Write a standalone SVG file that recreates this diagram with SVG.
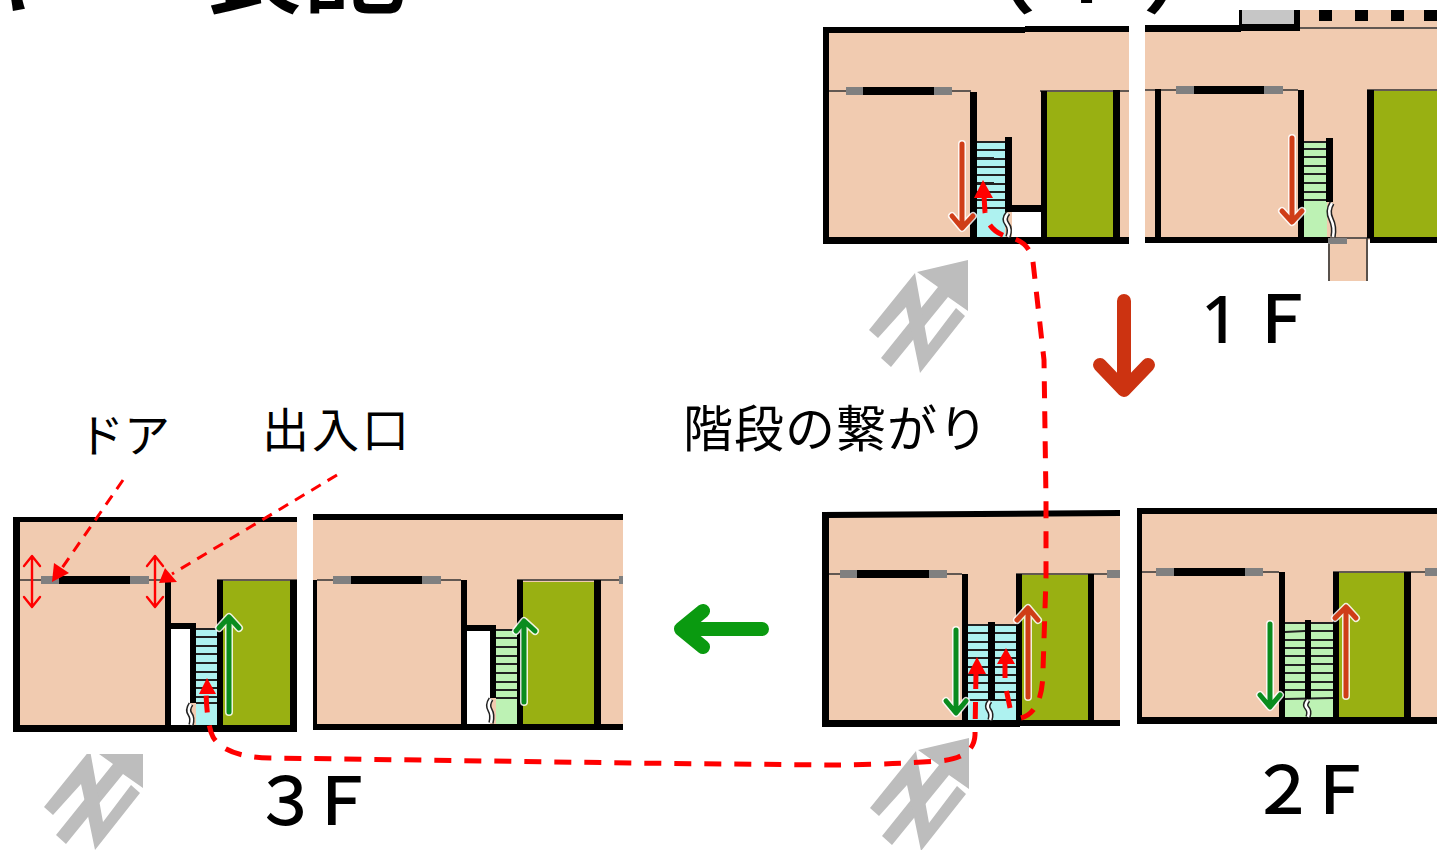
<svg xmlns="http://www.w3.org/2000/svg" width="1437" height="850" viewBox="0 0 1437 850">
<style>
.room{fill:#f1cbb0}.green{fill:#99b012}.cy{fill:#aef2f0}.lg{fill:#bdf2b4}.white{fill:#fff}.gray{fill:#808080}.k{fill:#000}
.thin{stroke:#333;stroke-width:1.6;fill:none}
.step{stroke:#222;stroke-width:2.2;fill:none}
.zk{stroke:#222;stroke-width:5.5;fill:none}.zw{stroke:#fff;stroke-width:2.5;fill:none}
.halo{fill:none;stroke:#fff;stroke-width:8;stroke-linecap:round;stroke-linejoin:round;stroke-opacity:.85}
.brown{fill:none;stroke:#cf3d17;stroke-width:5;stroke-linecap:round;stroke-linejoin:round}
.grn{fill:none;stroke:#0a8c1e;stroke-width:5;stroke-linecap:round;stroke-linejoin:round}
.dash{fill:none;stroke:#f00;stroke-width:5;stroke-dasharray:17 13}
.solid{fill:none;stroke:#f00;stroke-width:5}
.lead{fill:none;stroke:#f00;stroke-width:3;stroke-dasharray:11 8}
.dbl{fill:none;stroke:#f00;stroke-width:2.4;stroke-linecap:round;stroke-linejoin:round}
.rh{fill:#f00}
.t{font-family:"Noto Sans CJK JP","Noto Sans",sans-serif;fill:#000}
.fl{font-weight:500;font-size:66px}
</style>
<defs>
<g id="compass" fill="#bdbdbd">
<polygon points="0,0 -51,12 -30,27 -87,98 -77,107 -20,37 0,51"/>
<polygon points="-99,70 -53,13 -40,85 -12,48 -3,56 -48,113 -55,79 -62,47 -90,78"/>
</g>
<clipPath id="c3"><rect x="0" y="754" width="300" height="96"/></clipPath>
</defs>

<g id="title" class="t" font-size="105" font-weight="500">
<text x="-42" y="5">キ</text>
<text x="197" y="5">表記</text>
<text x="932" y="4">（</text>
<text x="1053" y="3" style="font-family:'Noto Sans',sans-serif">1</text>
<text x="1142" y="4">）</text>
</g>

<g id="floor-1f-left">
<rect class="room" x="826" y="30" width="303" height="210"/>
<rect class="green" x="1047" y="92" width="66" height="146"/>
<rect class="cy" x="977" y="141" width="28" height="97"/>
<rect class="white" x="1012" y="212" width="29" height="26"/>
<path class="step" d="M977 142H1005M977 150H1005M977 158H994M977 159H1005M977 167H1005M977 175H1005M977 183H994M977 184H1005M977 192H1005M977 200H1005M977 208H1005"/>
<path class="k" d="M823 27H1025V26H1129V32H1025V33H829V237H1129V244H823Z"/>
<path class="thin" d="M829 91H971M1040 91H1129"/>
<rect class="k" x="863" y="87" width="71" height="8"/>
<rect class="gray" x="846" y="87" width="17" height="8"/><rect class="gray" x="934" y="87" width="18" height="8"/>
<rect class="k" x="970" y="92" width="7" height="146"/>
<rect class="k" x="1005" y="137" width="7" height="70"/>
<rect class="k" x="1005" y="205" width="42" height="7"/>
<rect class="k" x="1041" y="91" width="6" height="147"/>
<rect class="k" x="1113" y="90" width="7" height="148"/>
<path class="zk" d="M1008 213q-5 6-1 11t1 13"/><path class="zw" d="M1008 213q-5 6-1 11t1 13"/>
</g>

<g id="floor-1f-right">
<rect class="room" x="1145" y="30" width="292" height="210"/>
<rect class="room" x="1300" y="10" width="137" height="20"/>
<rect x="1241" y="10" width="54" height="15" fill="#c6c6c6"/>
<rect class="green" x="1374" y="91" width="63" height="146"/>
<rect class="lg" x="1304" y="141" width="23" height="96"/>
<rect class="room" x="1328" y="240" width="40" height="41"/>
<path class="step" d="M1304 142H1326M1304 149H1326M1304 157H1326M1304 166H1326M1304 174H1326M1304 183H1326M1304 192H1326M1304 200H1326"/>
<path class="k" d="M1145 25H1241V32H1145Z"/>
<path class="k" d="M1239 10H1242V24H1294V10H1300V31H1239Z"/>
<path class="k" d="M1319 10h13v11h-13zM1355 10h13v11h-13zM1391 10h13v11h-13zM1424 10h13v11h-13z"/>
<path class="thin" d="M1300 28H1437M1145 90H1298M1367 90H1437M1329 240V281M1367 238V281M1329 238H1370"/>
<rect class="k" x="1155" y="89" width="6" height="149"/>
<rect class="k" x="1194" y="86" width="70" height="8"/>
<rect class="gray" x="1176" y="86" width="18" height="8"/><rect class="gray" x="1264" y="86" width="19" height="8"/>
<rect class="k" x="1298" y="90" width="6" height="148"/>
<rect class="k" x="1326" y="138" width="7" height="64"/>
<rect class="k" x="1367" y="90" width="7" height="148"/>
<path class="k" d="M1145 237H1330V243H1145ZM1370 237H1437V243H1370Z"/>
<path class="zk" d="M1332 203q-5 8-1 16t2 18"/><path class="zw" d="M1332 203q-5 8-1 16t2 18"/>
<rect class="gray" x="1328" y="238" width="19" height="6"/>
</g>

<g id="floor-2f-left">
<rect class="room" x="826" y="515" width="294" height="207"/>
<rect class="green" x="1022" y="575" width="66" height="145"/>
<rect class="cy" x="968" y="624" width="48" height="96"/>
<path class="step" d="M968 625H1016M968 633H1016M968 642H1016M968 650H1016M968 658H1016M968 667H1016M968 675H1016M968 683H1016M968 692H1016M968 700H1016"/>
<path class="k" d="M822 512L1120 510V516L829 518V720H1120V726H1020V727H822Z"/>
<path class="thin" d="M829 574H962M1016 574H1120"/>
<rect class="k" x="857" y="570" width="72" height="8"/>
<rect class="gray" x="840" y="570" width="17" height="8"/><rect class="gray" x="929" y="570" width="18" height="8"/><rect class="gray" x="1107" y="570" width="13" height="8"/>
<rect class="k" x="962" y="574" width="6" height="147"/>
<rect class="k" x="988" y="622" width="7" height="78"/>
<rect class="k" x="1016" y="574" width="6" height="147"/>
<rect class="k" x="1088" y="574" width="6" height="147"/>
<path class="zk" d="M990 701q-4 5-1 9t1 10"/><path class="zw" d="M990 701q-4 5-1 9t1 10"/>
</g>

<g id="floor-2f-right">
<rect class="room" x="1140" y="512" width="297" height="207"/>
<rect class="green" x="1339" y="573" width="65" height="145"/>
<rect class="lg" x="1285" y="622" width="48" height="96"/>
<path class="step" d="M1285 623H1333M1285 632L1305 631M1311 631H1333M1285 640H1333M1285 648H1333M1285 656H1333M1285 665H1305M1311 664H1333M1285 673H1333M1285 682H1333M1285 690H1333M1285 699L1333 698"/>
<path class="k" d="M1137 508H1437V514H1142V717H1437V724H1137Z"/>
<path class="thin" d="M1142 572H1279M1333 572H1437"/>
<rect class="k" x="1174" y="568" width="71" height="8"/>
<rect class="gray" x="1156" y="568" width="18" height="8"/><rect class="gray" x="1245" y="568" width="18" height="8"/><rect class="gray" x="1425" y="568" width="12" height="8"/>
<rect class="k" x="1279" y="572" width="6" height="146"/>
<rect class="k" x="1305" y="620" width="6" height="79"/>
<rect class="k" x="1333" y="572" width="6" height="146"/>
<rect class="k" x="1404" y="572" width="7" height="146"/>
<path class="zk" d="M1308 700q-4 5-1 8t1 9"/><path class="zw" d="M1308 700q-4 5-1 8t1 9"/>
</g>

<g id="floor-3f-left">
<rect class="room" x="16" y="520" width="281" height="208"/>
<rect class="green" x="223" y="581" width="67" height="145"/>
<rect class="white" x="171" y="629" width="19" height="97"/>
<rect class="cy" x="196" y="628" width="21" height="98"/>
<path class="step" d="M196 629H217M196 637H217M196 646H217M196 654H217M196 663H217M196 672H217M196 680H217M196 688H217M196 697H217M196 703H217"/>
<path class="k" d="M13 517H297V522H20V725H297V732H13Z"/>
<path class="thin" d="M20 580H165M217 580H297"/>
<rect class="k" x="59" y="576" width="71" height="8"/>
<rect class="gray" x="41" y="576" width="18" height="8"/><rect class="gray" x="130" y="576" width="19" height="8"/>
<rect class="k" x="165" y="580" width="6" height="146"/>
<rect class="k" x="165" y="623" width="31" height="6"/>
<rect class="k" x="190" y="623" width="6" height="80"/>
<rect class="k" x="217" y="580" width="6" height="146"/>
<rect class="k" x="290" y="580" width="7" height="146"/>
<path class="zk" d="M191 704q-4 6-1 10t1 11"/><path class="zw" d="M191 704q-4 6-1 10t1 11"/>
</g>

<g id="floor-3f-right">
<rect class="room" x="313" y="517" width="310" height="208"/>
<rect class="green" x="523" y="582" width="71" height="142"/>
<rect class="white" x="467" y="631" width="23" height="93"/>
<rect class="lg" x="496" y="629" width="21" height="95"/>
<path class="step" d="M496 630H517M496 638H517M496 647H517M496 656H517M496 664H517M496 673H517M496 682H517M496 690H517M496 698H517"/>
<path class="k" d="M313 514H623V520H313ZM313 724H623V730H313Z"/>
<rect class="k" x="313" y="580" width="4" height="144"/>
<path class="thin" d="M317 580H461M517 580H623"/>
<rect class="k" x="351" y="576" width="71" height="8"/>
<rect class="gray" x="333" y="576" width="18" height="8"/><rect class="gray" x="422" y="576" width="19" height="8"/><rect class="gray" x="619" y="576" width="4" height="8"/>
<rect class="k" x="461" y="580" width="6" height="145"/>
<rect class="k" x="461" y="625" width="35" height="6"/>
<rect class="k" x="490" y="625" width="6" height="73"/>
<rect class="k" x="517" y="580" width="6" height="145"/>
<rect class="k" x="594" y="580" width="7" height="145"/>
<path class="zk" d="M491 699q-4 6-1 11t1 13"/><path class="zw" d="M491 699q-4 6-1 11t1 13"/>
</g>

<g id="compass-1f"><use href="#compass" x="968" y="260"/></g>
<g id="compass-2f"><use href="#compass" x="969" y="738"/></g>
<g id="compass-3f" clip-path="url(#c3)"><use href="#compass" x="143" y="737"/></g>

<g id="connectors">
<g id="flow-brown">
<path class="halo" d="M962 144V227M952 216L962 228L973 216"/><path class="brown" d="M962 144V227M952 216L962 228L973 216"/>
<path class="halo" d="M1292 138V221M1282 211L1292 222L1302 211"/><path class="brown" d="M1292 138V221M1282 211L1292 222L1302 211"/>
<path class="halo" d="M1028 697V609M1017 620L1028 608L1038 620"/><path class="brown" d="M1028 697V609M1017 620L1028 608L1038 620"/>
<path class="halo" d="M1346 696V608M1335 618L1346 607L1356 618"/><path class="brown" d="M1346 696V608M1335 618L1346 607L1356 618"/>
</g>
<g id="flow-green">
<path class="halo" d="M956 630V712M946 701L956 713L966 701"/><path class="grn" d="M956 630V712M946 701L956 713L966 701"/>
<path class="halo" d="M1270 624V706M1260 695L1270 707L1280 695"/><path class="grn" d="M1270 624V706M1260 695L1270 707L1280 695"/>
<path class="halo" d="M229 712V618M219 628L229 617L239 628"/><path class="grn" d="M229 712V618M219 628L229 617L239 628"/>
<path class="halo" d="M524 702V622M516 631L524 621L535 631"/><path class="grn" d="M524 702V622M516 631L524 621L535 631"/>
</g>
<path id="big-down" d="M1124 301V388M1100 365L1124 390L1148 365" fill="none" stroke="#cc3311" stroke-width="14" stroke-linecap="round" stroke-linejoin="round"/>
<path id="big-left" d="M762 629H685M703 611L681 629L703 647" fill="none" stroke="#0a9a10" stroke-width="14" stroke-linecap="round" stroke-linejoin="round"/>
<g id="route">
<path class="dash" d="M984 196L985 212Q988 233 1012 238Q1030 243 1033 262L1044 360L1046 500V578L1043 670Q1043 712 1021 718"/>
<path class="solid" d="M1005 662V678M1006.500 691L1010 708"/>
<path class="dash" d="M976 672L975 735Q974 758 940 761Q880 765 826 765L630 763L270 758Q225 757 213 737Q207 725 206 692"/>
<polygon class="rh" points="983,180 974,198 993,198"/>
<polygon class="rh" points="977,657 968,674 986,674"/>
<polygon class="rh" points="1006,648 997,664 1015,664"/>
<polygon class="rh" points="207,678 199,694 216,694"/>
</g>
<g id="leaders">
<path class="lead" d="M123 480L62 568"/>
<polygon class="rh" points="52,582 54,563 69,573"/>
<path class="lead" d="M337 475L172 574"/>
<polygon class="rh" points="159,583 165,568 177,582"/>
<path class="dbl" d="M32 557V606M24 566L32 556L40 566M24 597L32 607L40 597"/>
<path class="dbl" d="M155 557V606M147 566L155 556L163 566M147 597L155 607L163 597"/>
</g>
</g>

<g id="labels" class="t">
<text x="78" y="452" font-size="46">ドア</text>
<text x="262" y="447" font-size="47" letter-spacing="3">出入口</text>
<text x="683" y="447" font-size="50" letter-spacing="1">階段の繋がり</text>
<text class="fl" y="343"><tspan x="1201" style="font-family:'Noto Sans',sans-serif">1</tspan><tspan x="1249">Ｆ</tspan></text>
<text class="fl" x="1250 1307" y="814">２Ｆ</text>
<text class="fl" x="253 309" y="825">３Ｆ</text>
</g>
</svg>
